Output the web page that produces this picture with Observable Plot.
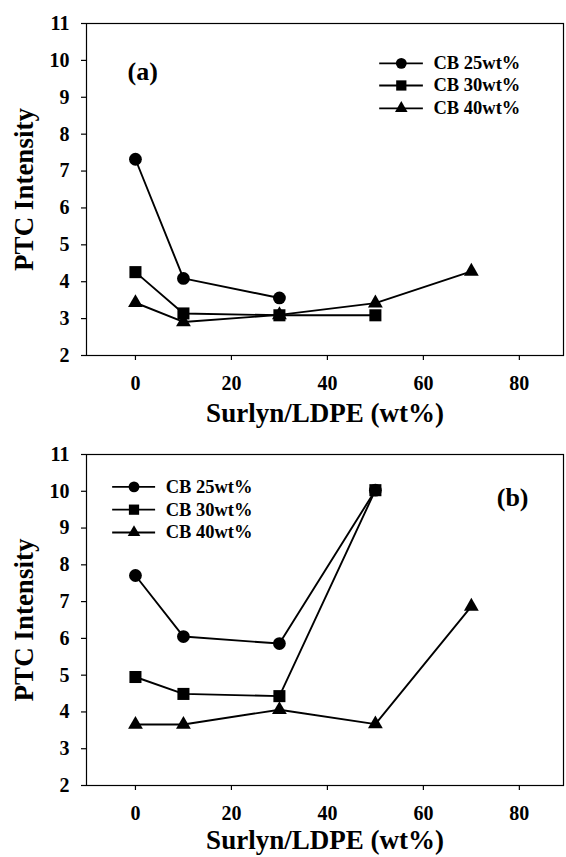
<!DOCTYPE html>
<html><head><meta charset="utf-8">
<script src="https://cdn.jsdelivr.net/npm/d3@7"></script>
<script src="https://cdn.jsdelivr.net/npm/@observablehq/plot@0.6"></script>
<style>body{margin:0;background:#fff} #chart{width:566px} #chart svg{display:block} #chart svg text{font-weight:bold !important}</style>
</head><body><div id="chart"></div>
<script>
const series = ["CB 25wt%", "CB 30wt%", "CB 40wt%"];
const symbols = ["circle", "square", "triangle"];
const xTicks = [0, 20, 40, 60, 80];
const yTicks = [2, 3, 4, 5, 6, 7, 8, 9, 10, 11];
const xTitle = "Surlyn/LDPE (wt%)";
const yTitle = "PTC Intensity";

// panel (a)
const aX25 = [0, 10, 30],           aY25 = [7.32, 4.09, 3.56];
const aX30 = [0, 10, 30, 50],       aY30 = [4.26, 3.14, 3.09, 3.09];
const aX40 = [0, 10, 30, 50, 70],   aY40 = [3.43, 2.91, 3.1, 3.42, 4.28];
// panel (b)
const bX25 = [0, 10, 30, 50],       bY25 = [7.71, 6.05, 5.86, 10.03];
const bX30 = [0, 10, 30, 50],       bY30 = [4.95, 4.49, 4.43, 10.03];
const bX40 = [0, 10, 30, 50, 70],   bY40 = [3.66, 3.66, 4.06, 3.67, 6.87];

const FONT = "'Liberation Serif', 'Times New Roman', serif";
const rSym = {circle: 6.4, square: 6.8, triangle: 5.5};

function rows(xs, ys, s) { return xs.map((x, i) => ({x, y: ys[i], s})); }

function makePanel(cfg) {
  const marks = [
    Plot.frame({stroke: "#000", strokeWidth: 1.2}),
    Plot.axisX(xTicks, {tickSize: 5, tickPadding: 15, fontSize: 20, fontWeight: "bold", label: null, tickFormat: d => d, strokeWidth: 1.2}),
    Plot.axisY(yTicks, {tickSize: 5, tickPadding: 12, fontSize: 20, fontWeight: "bold", label: null, tickFormat: d => d, strokeWidth: 1.2}),
    Plot.text([xTitle], {frameAnchor: "bottom", lineAnchor: "middle", textAnchor: "middle", dy: cfg.titleDy, fontSize: 27, fontWeight: "bold"}),
    Plot.text([yTitle], {frameAnchor: "left", textAnchor: "middle", lineAnchor: "middle", dx: -62, rotate: -90, fontSize: 27, fontWeight: "bold"}),
    Plot.text([cfg.tag], {x: cfg.tagX, y: cfg.tagY, fontSize: 26, fontWeight: "bold"})
  ];
  cfg.data.forEach((d, i) => {
    marks.push(Plot.line(d, {x: "x", y: "y", stroke: "#000", strokeWidth: 1.9}));
    marks.push(Plot.dot(d, {x: "x", y: "y", symbol: "s", fill: "#000", stroke: "none", r: rSym[symbols[i]]}));
  });
  const leg = series.map((s, i) => ({s, y: cfg.legY[i]}));
  marks.push(Plot.ruleY(leg, {y: "y", x1: cfg.legX1, x2: cfg.legX2, stroke: "#000", strokeWidth: 1.9}));
  series.forEach((s, i) => {
    marks.push(Plot.dot([leg[i]], {x: cfg.legXm, y: "y", symbol: "s", fill: "#000", stroke: "none", r: rSym[symbols[i]] * 0.85}));
  });
  marks.push(Plot.text(leg, {x: cfg.legXt, y: "y", text: "s", textAnchor: "start", fontSize: 18.5, fontWeight: "bold"}));
  return Plot.plot({
    width: 566, height: cfg.height,
    marginLeft: 86, marginRight: 3, marginTop: cfg.top, marginBottom: cfg.bottom,
    style: {fontFamily: FONT, fontWeight: "bold", color: "#000", background: "#fff", overflow: "visible"},
    x: {domain: [-10.2, 89.2]},
    y: {domain: [2, 11]},
    symbol: {domain: series, range: symbols},
    marks
  });
}

const chart = document.getElementById("chart");
chart.append(makePanel({
  height: 430, top: 23, bottom: 75, titleDy: 58,
  data: [rows(aX25, aY25, series[0]), rows(aX30, aY30, series[1]), rows(aX40, aY40, series[2])],
  tag: "(a)", tagX: 1.5, tagY: 9.7,
  legY: [9.92, 9.32, 8.70], legX1: 50.9, legX2: 60.0, legXm: 55.4, legXt: 62.1
}));
chart.append(makePanel({
  height: 427, top: 24, bottom: 72, titleDy: 55,
  data: [rows(bX25, bY25, series[0]), rows(bX30, bY30, series[1]), rows(bX40, bY40, series[2])],
  tag: "(b)", tagX: 78.6, tagY: 9.83,
  legY: [10.12, 9.5, 8.88], legX1: -4.75, legX2: 4.2, legXm: -0.3, legXt: 6.3
}));
</script>
</body></html>
